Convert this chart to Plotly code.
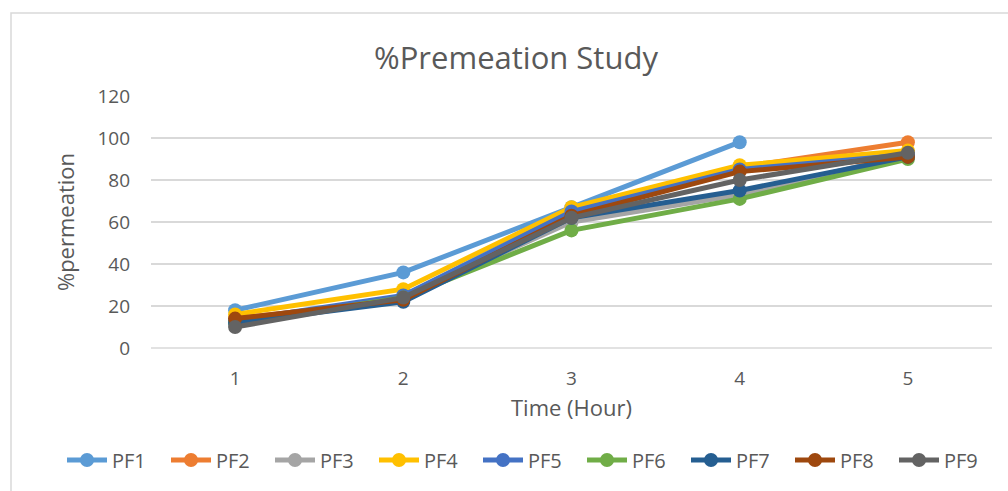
import plotly.graph_objects as go

# Sampling times (hours) and cumulative % permeation for each formulation
hours = ["1", "2", "3", "4", "5"]
pf1 = [18, 36, 67, 98, None]
pf2 = [14, 23, 66, 86, 98]
pf3 = [11, 24, 60, 73, 92]
pf4 = [16, 28, 67, 87, 94]
pf5 = [13, 25, 65, 85, 92]
pf6 = [12, 24, 56, 71, 90]
pf7 = [12, 22, 62, 75, 91]
pf8 = [14, 23, 63, 84, 91]
pf9 = [10, 24, 62, 80, 93]

series = [
    ("PF1", pf1, "#5B9BD5"),
    ("PF2", pf2, "#ED7D31"),
    ("PF3", pf3, "#A5A5A5"),
    ("PF4", pf4, "#FFC000"),
    ("PF5", pf5, "#4472C4"),
    ("PF6", pf6, "#70AD47"),
    ("PF7", pf7, "#255E91"),
    ("PF8", pf8, "#9E480E"),
    ("PF9", pf9, "#636363"),
]

y_ticks = [0, 20, 40, 60, 80, 100, 120]

fig = go.Figure()
for name, vals, color in series:
    fig.add_trace(go.Scatter(
        x=hours, y=vals, name=name, mode="lines+markers",
        line=dict(color=color, width=5),
        marker=dict(color=color, size=14),
    ))

text_color = "#595959"
font_family = "Open Sans, sans-serif"

fig.update_layout(
    width=1008, height=491,
    margin=dict(l=151, r=16, t=96, b=143),
    paper_bgcolor="white", plot_bgcolor="white",
    font=dict(family=font_family, color=text_color, size=19),
    title=dict(text="%Premeation Study", x=516 / 1008, xanchor="center",
               xref="container", y=1 - 58 / 491, yanchor="middle",
               yref="container",
               font=dict(size=31, color=text_color)),
    xaxis=dict(
        type="category", range=[-0.5, 4.5],
        showgrid=False, zeroline=False, showline=False,
        ticks="", tickfont=dict(size=19, color=text_color),
        ticklabelstandoff=17,
        title=dict(text="Time (Hour)", font=dict(size=22, color=text_color),
                   standoff=10),
    ),
    yaxis=dict(
        range=[0, 120], tickvals=y_ticks,
        showgrid=True, gridcolor="#D9D9D9", gridwidth=1.5,
        zeroline=False, showline=False, ticks="",
        tickfont=dict(size=19, color=text_color),
        ticklabelstandoff=20,
        title=dict(text="%permeation", font=dict(size=22, color=text_color),
                   standoff=16),
    ),
    legend=dict(
        orientation="h", x=(62 - 151) / 841, xanchor="left",
        y=(348 - 460) / 252, yanchor="middle",
        font=dict(size=20, color=text_color), traceorder="normal",
        itemwidth=40, entrywidth=49, tracegroupgap=0,
    ),
    showlegend=True,
)

# Chart-area frame along the top and left edges
fig.add_shape(type="rect", xref="paper", yref="paper",
              x0=(11 - 151) / 841, x1=1.2, y0=-1.0, y1=(348 - 13) / 252,
              line=dict(color="#D9D9D9", width=1.5), fillcolor="rgba(0,0,0,0)",
              layer="below")
fig.add_shape(type="line", xref="paper", yref="paper",
              x0=0, x1=1, y0=0, y1=0, line=dict(color="#D9D9D9", width=1.5))

fig.write_html("out.html")
